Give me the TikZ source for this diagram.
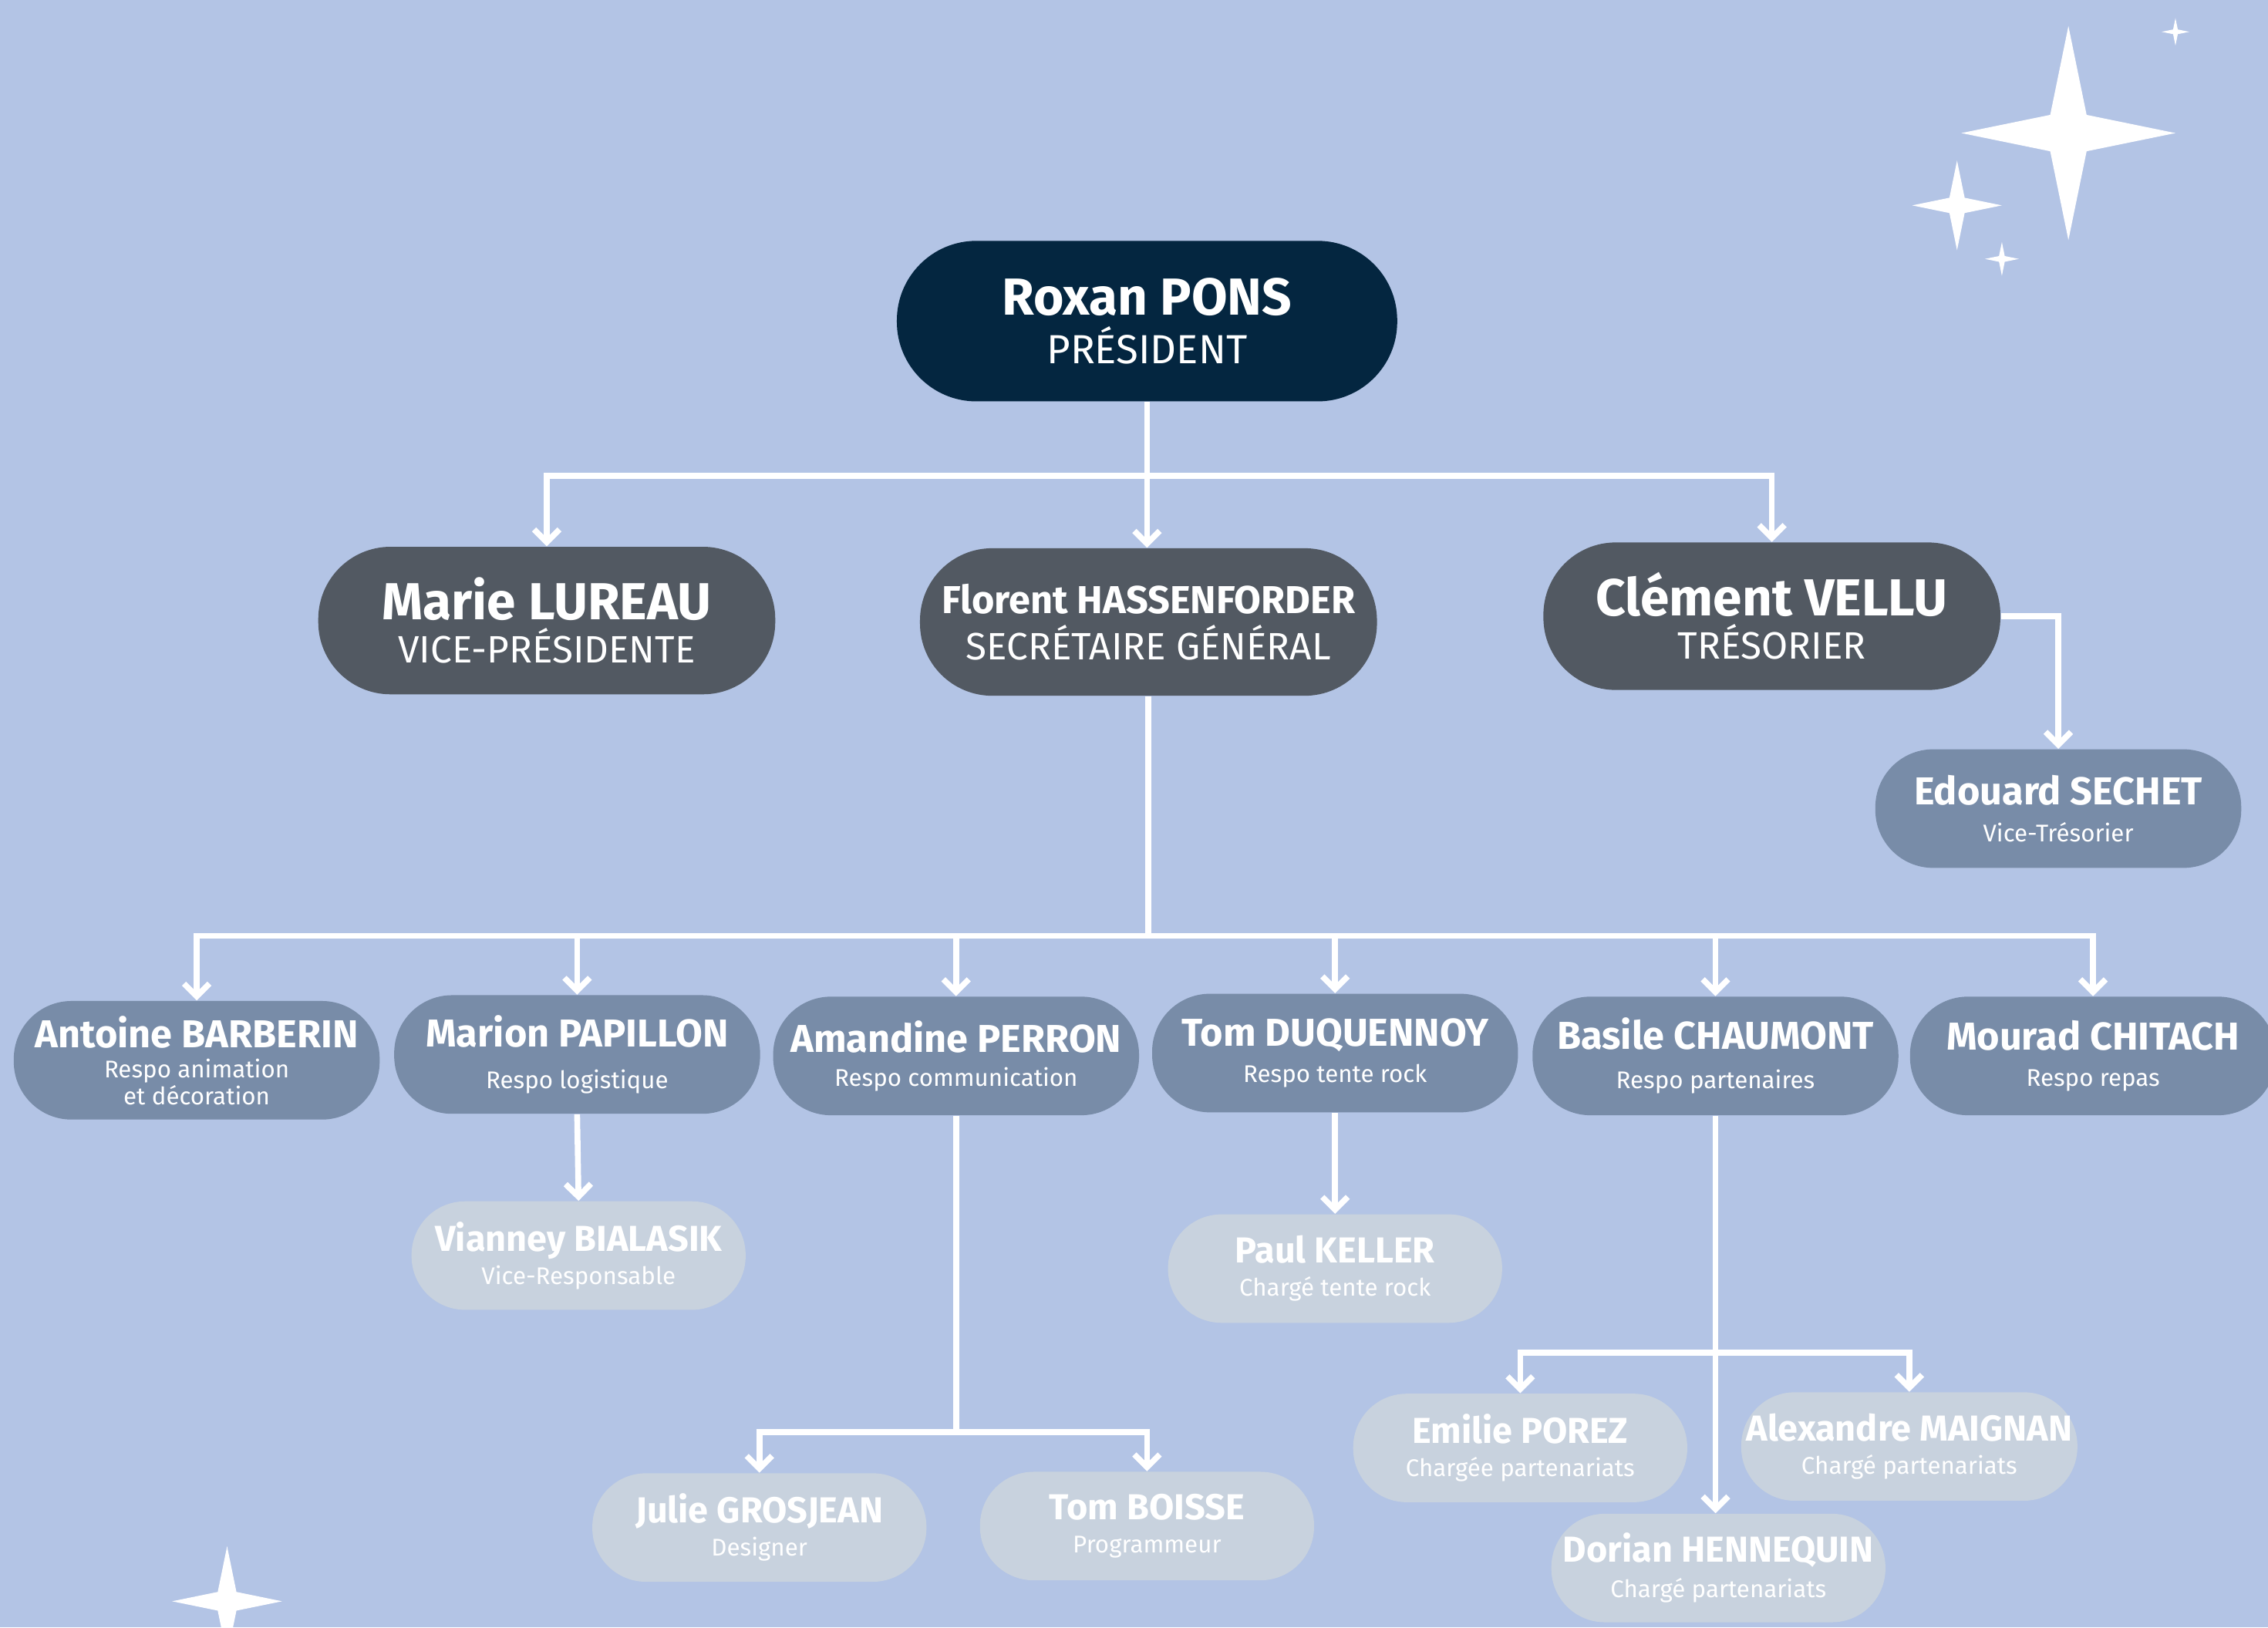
\documentclass[tikz,border=0pt]{standalone}
\usepackage{fontspec}
\setmainfont{Fira Sans}
\usepackage{tikz}
\usetikzlibrary{arrows.meta}
\usepackage{xcolor}

\definecolor{fond}{RGB}{179,196,229}
\definecolor{marine}{RGB}{4,38,64}
\definecolor{ardoise}{RGB}{82,89,98}
\definecolor{acier}{RGB}{120,140,168}
\definecolor{brume}{RGB}{200,210,222}

\newcommand{\nomgros}[1]{{\fontsize{20.5}{20}\selectfont\bfseries #1}}
\newcommand{\nommoyen}[1]{{\fontsize{15.3}{15}\selectfont\bfseries #1}}
\newcommand{\nompetit}[1]{{\fontsize{14.2}{14}\selectfont\bfseries #1}}

\tikzset{
    pres/.style={fill=marine, text=white, align=center, inner sep=2pt,
        minimum width=6.92cm, minimum height=2.22cm, rounded corners=1.1cm,
        font=\fontsize{16}{19}\selectfont},
    bureau/.style={fill=ardoise, text=white, align=center, inner sep=2pt,
        minimum width=6.32cm, minimum height=2.04cm, rounded corners=1.0cm,
        font=\fontsize{15}{17}\selectfont},
    respo/.style={fill=acier, text=white, align=center, inner sep=2pt,
        minimum width=5.06cm, minimum height=1.64cm, rounded corners=0.8cm,
        font=\fontsize{9.5}{14.5}\selectfont},
    aide/.style={fill=brume, text=white, align=center, inner sep=2pt,
        minimum width=4.62cm, minimum height=1.5cm, rounded corners=0.74cm,
        font=\fontsize{9.5}{13}\selectfont},
    lien/.style={draw=white, line width=2.3pt},
    fleche/.style={lien, -{Straight Barb[length=5pt,width=10pt]}},
    sparkle/.pic={
        \fill[white] (0,-1) -- (0.17,-0.17) -- (1,0) -- (0.17,0.17) -- (0,1)
            -- (-0.17,0.17) -- (-1,0) -- (-0.17,-0.17) -- cycle;
    }
}

\begin{document}
\begin{tikzpicture}[x=0.02cm, y=-0.02cm]
    % Background
    \fill[fond] (0,0) rectangle (1568,1125);
    \useasboundingbox (0,0) rectangle (1568,1125);

    % Sparkles
    \pic[scale=74] at (1430,92) {sparkle};
    \pic[scale=31] at (1353,142) {sparkle};
    \pic[scale=11.7] at (1384,179) {sparkle};
    \pic[scale=9.5] at (1504,22) {sparkle};
    \pic[scale=38] at (157,1107) {sparkle};

    % President
    \node (roxan) [pres] at (793,222) {\nomgros{Roxan PONS}\\PRÉSIDENT};

    % Board
    \node (marie) [bureau] at (378,429) {\nomgros{Marie LUREAU}\\VICE-PRÉSIDENTE};
    \node (florent) [bureau] at (794,430) {\nommoyen{Florent HASSENFORDER}\\[1pt]SECRÉTAIRE GÉNÉRAL};
    \node (clement) [bureau] at (1225,426) {\nomgros{Clément VELLU}\\TRÉSORIER};
    \node (edouard) [respo] at (1423,559) {\nommoyen{Edouard SECHET}\\Vice-Trésorier};

    % Team leads
    \node (antoine) [respo] at (136,733) {\nommoyen{Antoine BARBERIN}\\[-2.5pt]Respo animation\\[-4pt]et décoration};
    \node (marion) [respo] at (399,729) {\nommoyen{Marion PAPILLON}\\[2pt]Respo logistique};
    \node (amandine) [respo] at (661,730) {\nommoyen{Amandine PERRON}\\[-1pt]Respo communication};
    \node (tomd) [respo] at (923,728) {\nommoyen{Tom DUQUENNOY}\\Respo tente rock};
    \node (basile) [respo] at (1186,730) {\nommoyen{Basile CHAUMONT}\\[1pt]Respo partenaires};
    \node (mourad) [respo] at (1447,730) {\nommoyen{Mourad CHITACH}\\Respo repas};

    % Helpers
    \node (vianney) [aide] at (400,868) {\nompetit{Vianney BIALASIK}\\Vice-Responsable};
    \node (paul) [aide] at (923,877) {\nompetit{Paul KELLER}\\Chargé tente rock};
    \node (julie) [aide] at (525,1056) {\nompetit{Julie GROSJEAN}\\Designer};
    \node (tomb) [aide] at (793,1055) {\nompetit{Tom BOISSE}\\Programmeur};
    \node (emilie) [aide] at (1051,1001) {\nompetit{Emilie POREZ}\\Chargée partenariats};
    \node (alexandre) [aide] at (1320,1000) {\nompetit{Alexandre MAIGNAN}\\Chargé partenariats};
    \node (dorian) [aide] at (1188,1084) {\nompetit{Dorian HENNEQUIN}\\[1pt]Chargé partenariats};

    % Split points
    \coordinate (splitbureau) at (793,329);
    \coordinate (splitrespo) at (794,647);
    \coordinate (splitcom) at (661,990);
    \coordinate (splitpart) at (1186,935);

    % President to board
    \draw[lien] (roxan.south) -- (splitbureau);
    \draw[fleche] (splitbureau) -| (marie.north);
    \draw[fleche] (splitbureau) -- (splitbureau |- florent.north);
    \draw[fleche] (splitbureau) -| (clement.north);
    \draw[fleche] (clement.east) -| (edouard.north);

    % Secretary to team leads
    \draw[lien] (florent.south) -- (splitrespo);
    \draw[fleche] (splitrespo) -| (antoine.north);
    \draw[fleche] (splitrespo) -| (marion.north);
    \draw[fleche] (splitrespo) -| (amandine.north);
    \draw[fleche] (splitrespo) -| (tomd.north);
    \draw[fleche] (splitrespo) -| (basile.north);
    \draw[fleche] (splitrespo) -| (mourad.north);

    % Team leads to helpers
    \draw[fleche] (marion.south) -- (vianney.north);
    \draw[fleche] (tomd.south) -- (paul.north);
    \draw[lien] (amandine.south) -- (splitcom);
    \draw[fleche] (splitcom) -| (julie.north);
    \draw[fleche] (splitcom) -| (tomb.north);
    \draw[fleche] (basile.south) -- (basile.south |- dorian.north);
    \draw[fleche] (splitpart) -| (emilie.north);
    \draw[fleche] (splitpart) -| (alexandre.north);
\end{tikzpicture}
\end{document}
